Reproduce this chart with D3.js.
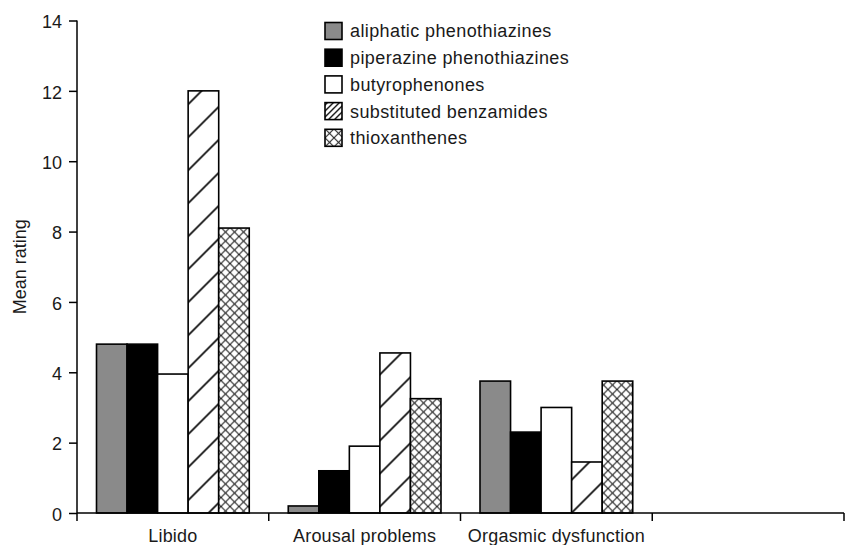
<!DOCTYPE html>
<html>
<head>
<meta charset="utf-8">
<script src="https://cdn.jsdelivr.net/npm/d3@7"></script>
<style>
  body { margin: 0; background: #fff; }
  svg { display: block; font-family: "Liberation Sans", Arial, sans-serif; }
  text { fill: #1a1a1a; }
</style>
</head>
<body>
<div id="chart"></div>
<script>
const categories = ["Libido", "Arousal problems", "Orgasmic dysfunction", ""];
const seriesNames = [
  "aliphatic phenothiazines",
  "piperazine phenothiazines",
  "butyrophenones",
  "substituted benzamides",
  "thioxanthenes",
];
const aliphatic = [4.8, 0.2, 3.75];
const piperazine = [4.8, 1.2, 2.3];
const butyrophenones = [3.95, 1.9, 3.0];
const benzamides = [12.0, 4.55, 1.45];
const thioxanthenes = [8.1, 3.25, 3.75];
const yTicks = [0, 2, 4, 6, 8, 10, 12, 14];

const seriesValues = [aliphatic, piperazine, butyrophenones, benzamides, thioxanthenes];
const seriesFills = ["#8a8a8a", "#000", "#fff", "url(#hatch)", "url(#cross)"];
const legendFills = ["#8a8a8a", "#000", "#fff", "url(#hatch-small)", "url(#cross)"];

const DIMENSIONS = {
  WIDTH: 848,
  HEIGHT: 545,
  MARGIN: { top: 20.5, right: 4, bottom: 32, left: 77 },
  GROUP_PAD: 19.5,
  TICK: 8,
  FONT_SIZE: 18,
};

const svg = d3
  .select("#chart")
  .append("svg")
  .attr("width", DIMENSIONS.WIDTH)
  .attr("height", DIMENSIONS.HEIGHT);

const defs = svg.append("defs");

// wide "/" hatching used in the bars
const hatch = defs
  .append("pattern")
  .attr("id", "hatch")
  .attr("patternUnits", "userSpaceOnUse")
  .attr("x", -3)
  .attr("width", 33)
  .attr("height", 33);
hatch.append("rect").attr("width", 33).attr("height", 33).attr("fill", "#fff");
hatch
  .append("path")
  .attr("d", "M0,33L33,0M-4,4L4,-4M29,37L37,29")
  .attr("stroke", "#111")
  .attr("stroke-width", 1.8);

// denser hatching for the legend swatch
const hatchSmall = defs
  .append("pattern")
  .attr("id", "hatch-small")
  .attr("patternUnits", "userSpaceOnUse")
  .attr("width", 6)
  .attr("height", 6);
hatchSmall.append("rect").attr("width", 6).attr("height", 6).attr("fill", "#fff");
hatchSmall
  .append("path")
  .attr("d", "M0,6L6,0M-1,1L1,-1M5,7L7,5")
  .attr("stroke", "#111")
  .attr("stroke-width", 1.4);

const cross = defs
  .append("pattern")
  .attr("id", "cross")
  .attr("patternUnits", "userSpaceOnUse")
  .attr("width", 9)
  .attr("height", 9);
cross.append("rect").attr("width", 9).attr("height", 9).attr("fill", "#fff");
cross
  .append("path")
  .attr("d", "M0,0L9,9M9,0L0,9")
  .attr("stroke", "#222")
  .attr("stroke-width", 1.1);

const margin = DIMENSIONS.MARGIN;
const width = DIMENSIONS.WIDTH - margin.left - margin.right;
const height = DIMENSIONS.HEIGHT - margin.top - margin.bottom;

const g = svg.append("g").attr("transform", `translate(${margin.left},${margin.top})`);

const x0 = d3.scaleBand().domain(d3.range(categories.length)).range([0, width]);
const x1 = d3
  .scaleBand()
  .domain(d3.range(seriesNames.length))
  .range([DIMENSIONS.GROUP_PAD, x0.bandwidth() - DIMENSIONS.GROUP_PAD]);
const y = d3.scaleLinear().domain([0, 14]).range([height, 0]);

// bars
seriesValues.forEach((values, s) => {
  g.selectAll(`rect.s${s}`)
    .data(values)
    .enter()
    .append("rect")
    .attr("class", `s${s}`)
    .attr("x", (d, i) => x0(i) + x1(s))
    .attr("y", (d) => y(d))
    .attr("width", x1.bandwidth())
    .attr("height", (d) => height - y(d))
    .attr("fill", seriesFills[s])
    .attr("stroke", "#000")
    .attr("stroke-width", 1.6);
});

// y axis
const yAxis = g
  .append("g")
  .call(d3.axisLeft(y).tickValues(yTicks).tickSize(DIMENSIONS.TICK).tickPadding(7).tickSizeOuter(0));
yAxis.select(".domain").remove();
yAxis.selectAll("line").attr("stroke", "#000").attr("stroke-width", 1.5);
yAxis
  .selectAll("text")
  .attr("font-size", DIMENSIONS.FONT_SIZE)
  .attr("fill", "#1a1a1a")
  .attr("dy", "0.4em");
g.append("line")
  .attr("x1", 0)
  .attr("x2", 0)
  .attr("y1", 0)
  .attr("y2", height + DIMENSIONS.TICK)
  .attr("stroke", "#000")
  .attr("stroke-width", 1.5);

// x axis with ticks between categories
g.append("line")
  .attr("x1", 0)
  .attr("x2", width)
  .attr("y1", height)
  .attr("y2", height)
  .attr("stroke", "#000")
  .attr("stroke-width", 1.5);
g.selectAll("line.xtick")
  .data(d3.range(1, categories.length + 1))
  .enter()
  .append("line")
  .attr("class", "xtick")
  .attr("x1", (i) => (i === categories.length ? width : x0(i)))
  .attr("x2", (i) => (i === categories.length ? width : x0(i)))
  .attr("y1", height)
  .attr("y2", height + DIMENSIONS.TICK)
  .attr("stroke", "#000")
  .attr("stroke-width", 1.5);
g.selectAll("text.xlabel")
  .data(categories)
  .enter()
  .append("text")
  .attr("class", "xlabel")
  .attr("x", (d, i) => x0(i) + x0.bandwidth() / 2)
  .attr("y", height + 29)
  .attr("text-anchor", "middle")
  .attr("font-size", DIMENSIONS.FONT_SIZE)
  .attr("letter-spacing", 0.2)
  .text((d) => d);

svg
  .append("text")
  .attr("transform", `translate(26,${margin.top + height / 2}) rotate(-90)`)
  .attr("text-anchor", "middle")
  .attr("font-size", DIMENSIONS.FONT_SIZE)
  .text("Mean rating");

// legend
const legend = svg
  .selectAll("g.legend")
  .data(seriesNames)
  .enter()
  .append("g")
  .attr("class", "legend")
  .attr("transform", (d, i) => `translate(325,${31 + i * 26.7})`);
legend
  .append("rect")
  .attr("x", 0)
  .attr("y", -8.5)
  .attr("width", 17)
  .attr("height", 17)
  .attr("fill", (d, i) => legendFills[i])
  .attr("stroke", "#000")
  .attr("stroke-width", 1.6);
legend
  .append("text")
  .attr("x", 25)
  .attr("y", 0)
  .attr("dy", "0.36em")
  .attr("font-size", DIMENSIONS.FONT_SIZE)
  .attr("letter-spacing", 0.4)
  .text((d) => d);
</script>
</body>
</html>
